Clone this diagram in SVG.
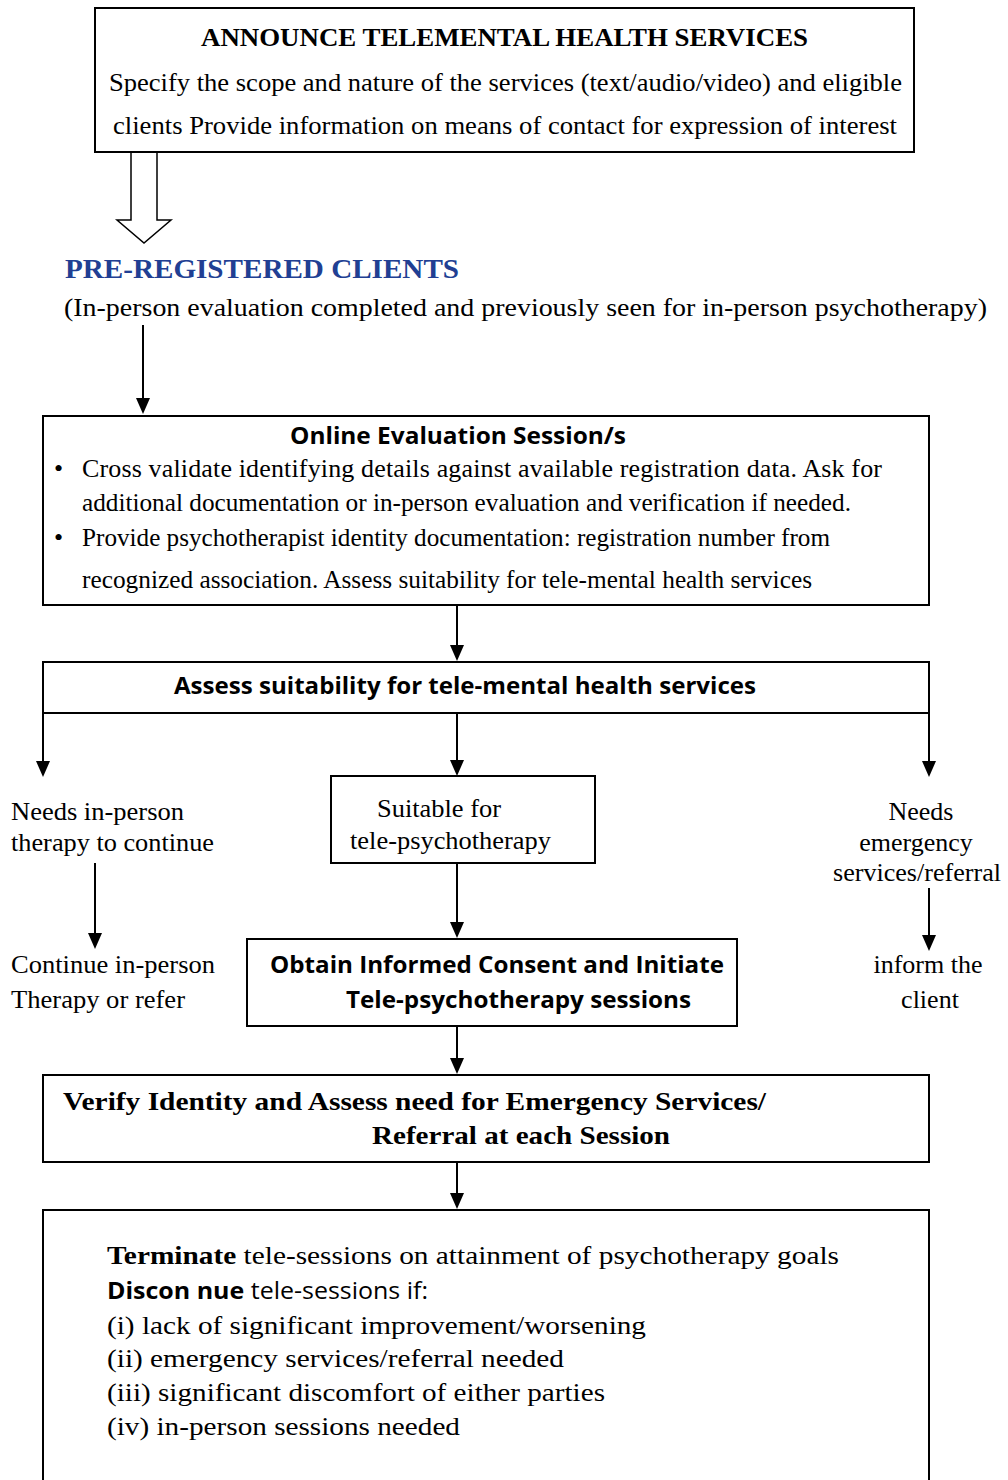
<svg xmlns="http://www.w3.org/2000/svg" width="1008" height="1480" viewBox="0 0 1008 1480">
<style>
.box{fill:#fff;stroke:#000;stroke-width:2}
.s{font-family:"Liberation Serif","Times New Roman",serif;font-size:26px;fill:#000}
.sb{font-family:"Liberation Serif","Times New Roman",serif;font-size:26px;font-weight:bold;fill:#000}
.k{font-family:"Open Sans","Liberation Sans",sans-serif;font-size:24px;fill:#000}
.kb{font-family:"Open Sans","Liberation Sans",sans-serif;font-size:24px;font-weight:bold;fill:#000}
.ln{stroke:#000;stroke-width:2;fill:none}
</style>
<rect x="0" y="0" width="1008" height="1480" fill="#fff"/>

<g id="connectors">
<path d="M131,153 V220 H117 L144,243 L171,220 H157 V153" fill="#fff" stroke="#000" stroke-width="1.5"/>
<line class="ln" x1="143" y1="325" x2="143" y2="398"/>
<path d="M136,398 L150,398 L143,414 Z"/>
<line class="ln" x1="457" y1="606" x2="457" y2="645"/>
<path d="M450,645 L464,645 L457,661 Z"/>
<line class="ln" x1="43" y1="713" x2="43" y2="761"/>
<path d="M36,761 L50,761 L43,777 Z"/>
<line class="ln" x1="457" y1="713" x2="457" y2="760"/>
<path d="M450,760 L464,760 L457,776 Z"/>
<line class="ln" x1="929" y1="713" x2="929" y2="761"/>
<path d="M922,761 L936,761 L929,777 Z"/>
<line class="ln" x1="95" y1="863" x2="95" y2="933"/>
<path d="M88,933 L102,933 L95,949 Z"/>
<line class="ln" x1="457" y1="864" x2="457" y2="922"/>
<path d="M450,922 L464,922 L457,938 Z"/>
<line class="ln" x1="929" y1="888" x2="929" y2="935"/>
<path d="M922,935 L936,935 L929,951 Z"/>
<line class="ln" x1="457" y1="1027" x2="457" y2="1058"/>
<path d="M450,1058 L464,1058 L457,1074 Z"/>
<line class="ln" x1="457" y1="1163" x2="457" y2="1193"/>
<path d="M450,1193 L464,1193 L457,1209 Z"/>
</g>

<g id="announce">
<rect class="box" x="95" y="8" width="819" height="144"/>
<text class="sb" x="201" y="46" font-size="25" textLength="607" lengthAdjust="spacingAndGlyphs">ANNOUNCE TELEMENTAL HEALTH SERVICES</text>
<text class="s" x="109" y="91" textLength="793" lengthAdjust="spacingAndGlyphs">Specify the scope and nature of the services (text/audio/video) and eligible</text>
<text class="s" x="113" y="134" textLength="784" lengthAdjust="spacingAndGlyphs">clients Provide information on means of contact for expression of interest</text>
</g>

<g id="preregistered">
<text x="65" y="278" font-family="Liberation Serif, Times New Roman, serif" font-size="28" font-weight="bold" fill="#213f93" textLength="394" lengthAdjust="spacingAndGlyphs">PRE-REGISTERED CLIENTS</text>
<text class="s" x="64" y="316" textLength="923" lengthAdjust="spacingAndGlyphs">(In-person evaluation completed and previously seen for in-person psychotherapy)</text>
</g>

<g id="online-eval">
<rect class="box" x="43" y="416" width="886" height="189"/>
<text class="kb" x="290" y="444" textLength="336" lengthAdjust="spacingAndGlyphs">Online Evaluation Session/s</text>
<text class="s" x="54" y="477" font-size="22">•</text>
<text class="s" x="82" y="477" textLength="800" lengthAdjust="spacing">Cross validate identifying details against available registration data. Ask for</text>
<text class="s" x="82" y="511" textLength="769" lengthAdjust="spacingAndGlyphs">additional documentation or in-person evaluation and verification if needed.</text>
<text class="s" x="54" y="546" font-size="22">•</text>
<text class="s" x="82" y="546" textLength="748" lengthAdjust="spacingAndGlyphs">Provide psychotherapist identity documentation: registration number from</text>
<text class="s" x="82" y="588" textLength="730" lengthAdjust="spacingAndGlyphs">recognized association. Assess suitability for tele-mental health services</text>
</g>

<g id="assess">
<rect class="box" x="43" y="662" width="886" height="51"/>
<text class="kb" x="174" y="694" textLength="582" lengthAdjust="spacingAndGlyphs">Assess suitability for tele-mental health services</text>
</g>

<g id="needs-inperson">
<text class="s" x="11" y="820" textLength="173" lengthAdjust="spacingAndGlyphs">Needs in-person</text>
<text class="s" x="11" y="851" textLength="203" lengthAdjust="spacingAndGlyphs">therapy to continue</text>
</g>

<g id="suitable">
<rect class="box" x="331" y="776" width="264" height="87"/>
<text class="s" x="377" y="817" textLength="124" lengthAdjust="spacingAndGlyphs">Suitable for</text>
<text class="s" x="350" y="849" textLength="201" lengthAdjust="spacingAndGlyphs">tele-psychotherapy</text>
</g>

<g id="needs-emergency">
<text class="s" x="921" y="820" text-anchor="middle">Needs</text>
<text class="s" x="916" y="851" text-anchor="middle">emergency</text>
<text class="s" x="833" y="881" textLength="168" lengthAdjust="spacingAndGlyphs">services/referral</text>
</g>

<g id="continue-inperson">
<text class="s" x="11" y="973" textLength="204" lengthAdjust="spacingAndGlyphs">Continue in-person</text>
<text class="s" x="11" y="1008" textLength="174" lengthAdjust="spacingAndGlyphs">Therapy or refer</text>
</g>

<g id="consent">
<rect class="box" x="247" y="939" width="490" height="87"/>
<text class="kb" x="270" y="973" textLength="454" lengthAdjust="spacingAndGlyphs">Obtain Informed Consent and Initiate</text>
<text class="kb" x="346" y="1008" textLength="345" lengthAdjust="spacingAndGlyphs">Tele-psychotherapy sessions</text>
</g>

<g id="inform">
<text class="s" x="928" y="973" text-anchor="middle">inform the</text>
<text class="s" x="930" y="1008" text-anchor="middle">client</text>
</g>

<g id="verify">
<rect class="box" x="43" y="1075" width="886" height="87"/>
<text class="sb" x="63" y="1110" textLength="703" lengthAdjust="spacingAndGlyphs">Verify Identity and Assess need for Emergency Services/</text>
<text class="sb" x="372" y="1144" textLength="298" lengthAdjust="spacingAndGlyphs">Referral at each Session</text>
</g>

<g id="terminate">
<rect class="box" x="43" y="1210" width="886" height="290"/>
<text class="s" x="107" y="1264" font-size="27" textLength="732" lengthAdjust="spacingAndGlyphs"><tspan font-weight="bold">Terminate</tspan> tele-sessions on attainment of psychotherapy goals</text>
<text class="k" x="107" y="1299" font-size="25" textLength="321" lengthAdjust="spacingAndGlyphs"><tspan font-weight="bold">Discon nue</tspan> tele-sessions if:</text>
<text class="s" x="107" y="1334" font-size="27" textLength="539" lengthAdjust="spacingAndGlyphs">(i) lack of significant improvement/worsening</text>
<text class="s" x="107" y="1367" font-size="27" textLength="457" lengthAdjust="spacingAndGlyphs">(ii) emergency services/referral needed</text>
<text class="s" x="107" y="1401" font-size="27" textLength="498" lengthAdjust="spacingAndGlyphs">(iii) significant discomfort of either parties</text>
<text class="s" x="107" y="1435" font-size="27" textLength="353" lengthAdjust="spacingAndGlyphs">(iv) in-person sessions needed</text>
</g>
</svg>
